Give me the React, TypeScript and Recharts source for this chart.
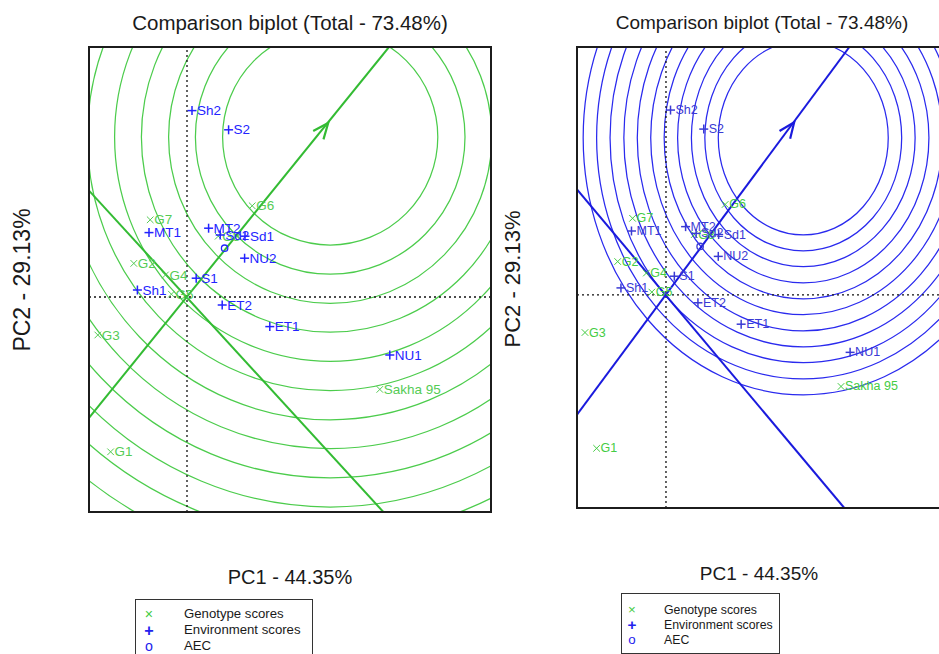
import React from 'react';
import { ScatterChart, Scatter, XAxis, YAxis, ReferenceLine, ReferenceArea, ReferenceDot } from 'recharts';

// genotype scores (PC1, PC2)
const genotypeNames = ['G1', 'G2', 'G3', 'G4', 'G5', 'G6', 'G7', 'G8', 'Sakha 95'];
const genotypePC1 = [-1.91, -1.33, -2.23, -0.54, -0.39, 1.63, -0.92, 0.78, 4.82];
const genotypePC2 = [-3.87, 0.84, -0.95, 0.55, 0.07, 2.28, 1.93, 1.52, -2.31];

// environment scores (PC1, PC2)
const envNames = ['Sh2', 'S2', 'MT1', 'MT2', 'Sd2', 'Sd1', 'NU2', 'S1', 'Sh1', 'ET2', 'ET1', 'NU1'];
const envPC1 = [0.125, 1.04, -0.95, 0.54, 0.83, 1.45, 1.44, 0.23, -1.24, 0.88, 2.07, 5.07];
const envPC2 = [4.66, 4.18, 1.61, 1.72, 1.55, 1.52, 0.97, 0.47, 0.175, -0.2, -0.74, -1.45];

// average environment coordinate, ideal genotype (arrow tip), axis lines
const aec = [0.94, 1.22];
const idealPoint = [3.53, 4.35];
const aeaLine = [[-2.45, -3.02], [5.05, 6.25]];
const atcLine = [[-2.45, 2.66], [4.91, -5.375]];

// concentric rings round the ideal genotype
const leftRingCenter = [3.58, 4.0];
const leftRingRx = [2.69, 3.37, 4.04, 4.72, 5.39, 6.07, 6.74, 7.42, 8.09, 8.77, 9.44, 10.12];
const leftRingRy = [2.7, 3.43, 4.16, 4.88, 5.61, 6.34, 7.07, 7.79, 8.52, 9.25, 9.98, 10.7];
const rightRingCenter = [3.78, 3.96];
const rightRingRx = [2.34, 2.71, 3.08, 3.46, 3.83, 4.2, 4.57, 4.94, 5.32, 5.69, 6.06];
const rightRingRy = [2.45, 2.85, 3.25, 3.66, 4.06, 4.46, 4.87, 5.27, 5.67, 6.08, 6.48];

const xDomain = [-2.45, 7.6];
const yDomain = [-5.375, 6.25];

const FONT = '"Liberation Sans", Arial, Helvetica, sans-serif';

const genoData = genotypeNames.map((name, i) => ({ name, x: genotypePC1[i], y: genotypePC2[i] }));
const envData = envNames.map((name, i) => ({ name, x: envPC1[i], y: envPC2[i] }));

function GenoMark(props: any) {
  const { cx, cy, payload, color, fontSize } = props;
  const s = 3.3;
  return (
    <g>
      <line x1={cx - s} y1={cy - s} x2={cx + s} y2={cy + s} stroke={color} strokeWidth={1} />
      <line x1={cx - s} y1={cy + s} x2={cx + s} y2={cy - s} stroke={color} strokeWidth={1} />
      <text x={cx + 4} y={cy} dominantBaseline="central" fontSize={fontSize} fontFamily={FONT} fill={color}>
        {payload.name}
      </text>
    </g>
  );
}

function EnvMark(props: any) {
  const { cx, cy, payload, color, fontSize } = props;
  const s = 4.5;
  return (
    <g>
      <line x1={cx - s} y1={cy} x2={cx + s} y2={cy} stroke={color} strokeWidth={1.5} />
      <line x1={cx} y1={cy - s} x2={cx} y2={cy + s} stroke={color} strokeWidth={1.5} />
      <text x={cx + 5} y={cy} dominantBaseline="central" fontSize={fontSize} fontFamily={FONT} fill={color}>
        {payload.name}
      </text>
    </g>
  );
}

function ArrowHead(props: any) {
  const { x1, y1, x2, y2, stroke, clipPath } = props;
  const a = Math.atan2(y2 - y1, x2 - x1);
  const len = 17;
  const w = 0.4;
  const p1 = [x2 - len * Math.cos(a - w), y2 - len * Math.sin(a - w)];
  const p2 = [x2 - len * Math.cos(a + w), y2 - len * Math.sin(a + w)];
  return (
    <path
      d={`M${p1[0]},${p1[1]} L${x2},${y2} L${p2[0]},${p2[1]}`}
      fill="none"
      stroke={stroke}
      strokeWidth={2.2}
      clipPath={clipPath}
    />
  );
}

type PanelCfg = {
  left: number;
  top: number;
  width: number;
  height: number;
  ringColor: string;
  lineColor: string;
  envColor: string;
  genoColor: string;
  center: number[];
  rx: number[];
  ry: number[];
  fontSize: number;
};

function Biplot({ cfg }: { cfg: PanelCfg }) {
  return (
    <div style={{ position: 'absolute', left: cfg.left, top: cfg.top, width: cfg.width, height: cfg.height }}>
      <ScatterChart width={cfg.width} height={cfg.height} margin={{ top: 0, right: 0, bottom: 0, left: 0 }}>
        <XAxis type="number" dataKey="x" domain={xDomain} hide allowDataOverflow />
        <YAxis type="number" dataKey="y" domain={yDomain} hide allowDataOverflow />
        {cfg.rx.map((rx, i) => (
          <ReferenceArea
            key={'ring' + i}
            x1={cfg.center[0] - rx}
            x2={cfg.center[0] + rx}
            y1={cfg.center[1] - cfg.ry[i]}
            y2={cfg.center[1] + cfg.ry[i]}
            ifOverflow="hidden"
            shape={(p: any) => (
              <ellipse
                cx={p.x + p.width / 2}
                cy={p.y + p.height / 2}
                rx={Math.abs(p.width) / 2}
                ry={Math.abs(p.height) / 2}
                fill="none"
                stroke={cfg.ringColor}
                strokeWidth={1.25}
                clipPath={p.clipPath}
              />
            )}
          />
        ))}
        <ReferenceLine x={0} stroke="#111" strokeWidth={1.3} strokeDasharray="2 3" ifOverflow="hidden" />
        <ReferenceLine y={0} stroke="#111" strokeWidth={1.3} strokeDasharray="2 3" ifOverflow="hidden" />
        <ReferenceLine
          segment={[{ x: aeaLine[0][0], y: aeaLine[0][1] }, { x: aeaLine[1][0], y: aeaLine[1][1] }]}
          stroke={cfg.lineColor}
          strokeWidth={2}
          ifOverflow="hidden"
        />
        <ReferenceLine
          segment={[{ x: atcLine[0][0], y: atcLine[0][1] }, { x: atcLine[1][0], y: atcLine[1][1] }]}
          stroke={cfg.lineColor}
          strokeWidth={2}
          ifOverflow="hidden"
        />
        <ReferenceLine
          segment={[{ x: 0, y: 0 }, { x: idealPoint[0], y: idealPoint[1] }]}
          stroke={cfg.lineColor}
          ifOverflow="hidden"
          shape={(p: any) => <ArrowHead {...p} stroke={cfg.lineColor} />}
        />
        <ReferenceDot x={aec[0]} y={aec[1]} r={3.2} fill="none" stroke={cfg.envColor} strokeWidth={1.3} />
        <Scatter
          data={genoData}
          isAnimationActive={false}
          shape={(p: any) => <GenoMark {...p} color={cfg.genoColor} fontSize={cfg.fontSize} />}
        />
        <Scatter
          data={envData}
          isAnimationActive={false}
          shape={(p: any) => <EnvMark {...p} color={cfg.envColor} fontSize={cfg.fontSize} />}
        />
      </ScatterChart>
      <div
        style={{
          position: 'absolute',
          left: -1,
          top: -1,
          width: cfg.width + 2,
          height: cfg.height + 2,
          border: '2px solid #1c1c1c',
          boxSizing: 'border-box',
          pointerEvents: 'none',
        }}
      />
    </div>
  );
}

function Label({ x, y, size, text, rotate }: { x: number; y: number; size: number; text: string; rotate?: boolean }) {
  return (
    <div
      style={{
        position: 'absolute',
        left: x,
        top: y,
        transform: `translate(-50%, -50%)${rotate ? ' rotate(-90deg)' : ''}`,
        fontFamily: FONT,
        fontSize: size,
        color: '#1a1a1a',
        whiteSpace: 'nowrap',
        lineHeight: 1,
      }}
    >
      {text}
    </div>
  );
}

function Legend({ left, top, width, height, markerX, textX, rows, size }: any) {
  const items = [
    { m: '×', c: '#44cc44', t: 'Genotype scores', fs: size + 1 },
    { m: '+', c: '#2222ee', t: 'Environment scores', fs: size + 3 },
    { m: 'o', c: '#2222ee', t: 'AEC', fs: size + 1 },
  ];
  return (
    <div
      style={{
        position: 'absolute',
        left,
        top,
        width,
        height,
        border: '1px solid #333',
        boxSizing: 'border-box',
        fontFamily: FONT,
        fontSize: size,
      }}
    >
      {items.map((it, i) => (
        <React.Fragment key={it.t}>
          <div
            style={{
              position: 'absolute',
              left: markerX - left,
              top: rows[i] - top,
              transform: 'translate(-50%, -50%)',
              color: it.c,
              lineHeight: 1,
              fontSize: it.fs,
              fontWeight: i === 1 ? 'bold' : 'normal',
            }}
          >
            {it.m}
          </div>
          <div
            style={{
              position: 'absolute',
              left: textX - left,
              top: rows[i] - top,
              transform: 'translateY(-50%)',
              color: '#1a1a1a',
              lineHeight: 1,
              whiteSpace: 'nowrap',
            }}
          >
            {it.t}
          </div>
        </React.Fragment>
      ))}
    </div>
  );
}

const leftPanel: PanelCfg = {
  left: 89,
  top: 47,
  width: 402,
  height: 465,
  ringColor: '#4ccc4c',
  lineColor: '#33bb33',
  envColor: '#2323ff',
  genoColor: '#55cc55',
  center: leftRingCenter,
  rx: leftRingRx,
  ry: leftRingRy,
  fontSize: 13.5,
};

const rightPanel: PanelCfg = {
  left: 577,
  top: 47,
  width: 365,
  height: 461,
  ringColor: '#2a2aee',
  lineColor: '#1a1add',
  envColor: '#3a3ad4',
  genoColor: '#44cc44',
  center: rightRingCenter,
  rx: rightRingRx,
  ry: rightRingRy,
  fontSize: 12.5,
};

export default function App() {
  return (
    <div
      style={{
        position: 'absolute',
        left: 0,
        top: 0,
        width: 939,
        height: 654,
        overflow: 'hidden',
        background: '#fff',
      }}
    >
      <Label x={290} y={23} size={20.5} text="Comparison biplot (Total - 73.48%)" />
      <Label x={762} y={22} size={19} text="Comparison biplot (Total - 73.48%)" />
      <Label x={22} y={280} size={23} text="PC2 - 29.13%" rotate />
      <Label x={513} y={279} size={22} text="PC2 - 29.13%" rotate />
      <Label x={290} y={577} size={20} text="PC1 - 44.35%" />
      <Label x={759} y={573} size={19} text="PC1 - 44.35%" />
      <Biplot cfg={leftPanel} />
      <Biplot cfg={rightPanel} />
      <Legend left={135} top={599} width={178} height={70} markerX={148} textX={183} rows={[613, 629, 645]} size={13.2} />
      <Legend left={621} top={593} width={159} height={61} markerX={631} textX={663} rows={[609, 624, 639]} size={12.3} />
    </div>
  );
}
